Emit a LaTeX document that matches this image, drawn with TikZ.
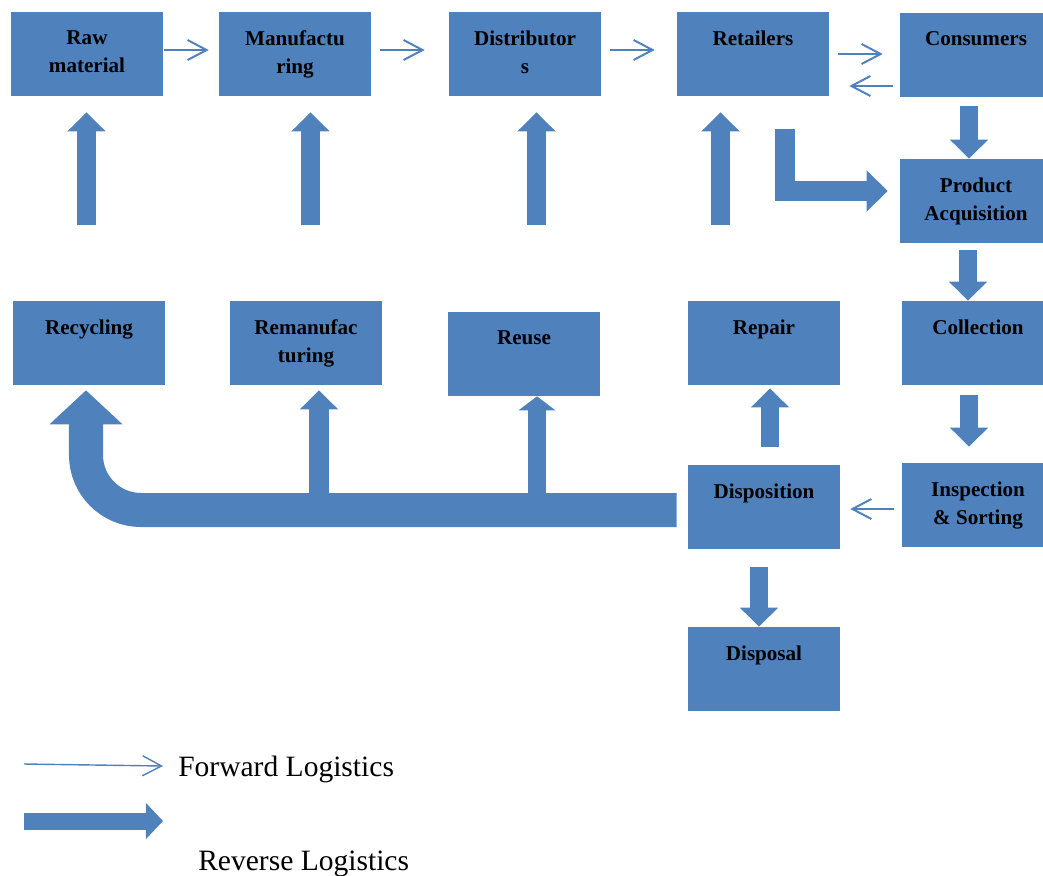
\documentclass[tikz,border=0pt]{standalone}
\usepackage{fontspec}
\setmainfont{Liberation Serif}
\usetikzlibrary{arrows.meta,positioning}
\definecolor{logiblue}{RGB}{79,129,189}
\tikzset{blk/.style={rectangle,fill=logiblue,minimum width=3.8cm,minimum height=2.1cm,inner sep=0pt},
            lbl/.style={anchor=north,yshift=-0.47cm,align=center,inner sep=0pt,font=\bfseries\fontsize{15}{20}\selectfont},
            legtxt/.style={inner sep=0pt,font=\fontsize{21}{25}\selectfont},
            fwd/.style={draw=logiblue,line width=1.4pt,-{Straight Barb[length=0.475cm,width=0.5cm]}},
            revs/.style={draw=logiblue,line width=0.475cm,-{Triangle[length=0.475cm,width=0.925cm]}},
            lrev/.style={draw=logiblue,line width=0.5cm,-{Triangle[length=0.525cm,width=1cm]}},
            bigrev/.style={draw=logiblue,line width=0.85cm,rounded corners=1.375cm,-{Triangle[length=0.85cm,width=1.775cm]}}}

\begin{document}
\begin{tikzpicture}[x=0.025cm,y=-0.025cm]
\useasboundingbox (0,0) rectangle (1043,875);
% forward chain
\node[blk,label={[lbl]north:Raw\\material}] at (87,54)(raw){};
\node[blk,label={[lbl]north:Manufactu\\ring}] at (295,54)(manu){};
\node[blk,label={[lbl]north:Distributor\\s}] at (525,54)(dist){};
\node[blk,label={[lbl]north:Retailers}] at (753,54)(ret){};
\node[blk,label={[lbl]north:Consumers}] at (976,55)(cons){};
% reverse chain
\node[blk,label={[lbl]north:Product\\Acquisition}] at (976,201)(acq){};
\node[blk,label={[lbl]north:Collection}] at (978,343)(coll){};
\node[blk,label={[lbl]north:Inspection\\\& Sorting}] at (978,505)(insp){};
\node[blk,label={[lbl]north:Disposition}] at (764,507)(disp){};
\node[blk,label={[lbl]north:Repair}] at (764,343)(repair){};
\node[blk,label={[lbl]north:Disposal}] at (764,669)(disposal){};
\node[blk,label={[lbl]north:Recycling}] at (89,343)(recy){};
\node[blk,label={[lbl]north:Remanufac\\turing}] at (306,343)(reman){};
\node[blk,label={[lbl]north:Reuse}] at (524,354)(reuse){};
% forward arrows
\draw[fwd,shorten <=0.025cm,shorten >=0.25cm] ([yshift=0.1cm]raw.east) -- ([yshift=0.1cm]manu.west);
\draw[fwd,shorten <=0.225cm,shorten >=0.6cm] ([yshift=0.1cm]manu.east) -- ([yshift=0.1cm]dist.west);
\draw[fwd,shorten <=0.225cm,shorten >=0.55cm] ([yshift=0.1cm]dist.east) -- ([yshift=0.1cm]ret.west);
\draw[fwd,shorten <=0.225cm,shorten >=0.425cm] (ret.east) -- (ret.east -| cons.west);
\draw[fwd,shorten <=0.175cm,shorten >=0.5cm] ([yshift=-0.775cm]cons.west) -- ([yshift=-0.775cm]cons.west -| ret.east);
\draw[fwd,shorten <=0.2cm,shorten >=0.25cm] ([yshift=-0.1cm]insp.west) -- ([yshift=-0.1cm]insp.west -| disp.east);
% reverse arrows up to the forward chain
\coordinate (rawfoot) at (86.5,225);
\coordinate (manufoot) at (310.5,225);
\coordinate (distfoot) at (536.5,225);
\coordinate (retfoot) at (720.5,225);
\draw[revs,shorten >=0.4cm] (rawfoot) -- (rawfoot |- raw.south);
\draw[revs,shorten >=0.4cm] (manufoot) -- (manufoot |- manu.south);
\draw[revs,shorten >=0.4cm] (distfoot) -- (distfoot |- dist.south);
\draw[revs,shorten >=0.4cm] (retfoot) -- (retfoot |- ret.south);
\coordinate (retbend) at (785,129);
\draw[lrev,shorten >=0.3cm] (retbend) |- ([yshift=0.25cm]acq.west);
% reverse chain arrows
\draw[revs,line width=0.45cm,shorten <=0.225cm] ([xshift=-0.175cm]cons.south) -- ([xshift=-0.175cm]cons.south |- acq.north);
\draw[revs,line width=0.45cm,shorten <=0.175cm] ([xshift=-0.2cm]acq.south) -- ([xshift=-0.2cm]acq.south |- coll.north);
\draw[revs,line width=0.45cm,shorten <=0.25cm,shorten >=0.4cm] ([xshift=-0.225cm]coll.south) -- ([xshift=-0.225cm]insp.north);
\draw[revs,line width=0.45cm,shorten <=0.45cm,shorten >=0.075cm] ([xshift=0.15cm]disp.north) -- ([xshift=0.15cm]repair.south);
\draw[revs,line width=0.45cm,shorten <=0.45cm] ([xshift=-0.125cm]disp.south) -- ([xshift=-0.125cm]disposal.north);
% big return arrow
\coordinate (ucorner) at (86,510);
\draw[bigrev,shorten >=0.125cm] ([xshift=-0.275cm,yshift=-0.075cm]disp.west) -- (ucorner) -- (ucorner |- recy.south);
\coordinate (remanfoot) at (319,510);
\coordinate (reusefoot) at (537,510);
\draw[revs,line width=0.5cm,shorten >=0.125cm] (remanfoot) -- (remanfoot |- reman.south);
\draw[revs,line width=0.45cm,-{Triangle[length=0.35cm,width=0.9cm]}] (reusefoot) -- (reusefoot |- reuse.south);
% legend
\coordinate (fwdfrom) at (24,764);
\coordinate (fwdto) at (163,766);
\draw[fwd,line width=1pt] (fwdfrom) -- (fwdto);
\node[legtxt,anchor=base west] at (178,776)(fwdtxt){Forward Logistics};
\coordinate (revfrom) at (24,821);
\coordinate (revto) at (163,821);
\draw[revs,line width=0.425cm,-{Triangle[length=0.425cm,width=0.875cm]}] (revfrom) -- (revto);
\node[legtxt,anchor=base west] at (198,870)(revtxt){Reverse Logistics};
\end{tikzpicture}
\end{document}
